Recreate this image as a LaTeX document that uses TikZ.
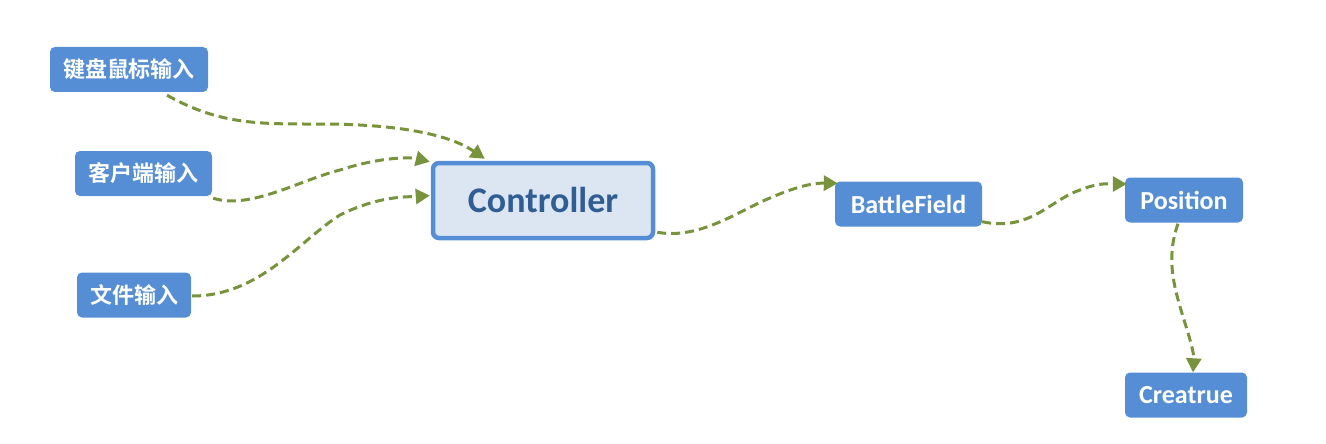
\documentclass[tikz,border=0pt]{standalone}
\usepackage{fontspec}
\setmainfont{Carlito}
\newfontfamily\cjk{Noto Sans CJK SC}[BoldFont={Noto Sans CJK SC Bold}]
\usetikzlibrary{arrows.meta,calc}
\definecolor{boxblue}{HTML}{558ED5}
\definecolor{ctrlfill}{HTML}{DCE6F2}
\definecolor{ctrltext}{HTML}{2F5D94}
\definecolor{arrgreen}{HTML}{77933C}
\begin{document}
\begin{tikzpicture}[x=1pt,y=-1pt,
  box/.style={draw=none,fill=boxblue,rounded corners=5pt,text=white,font=\bfseries\fontsize{26}{30}\selectfont,minimum height=45pt,inner sep=0pt,align=center},
  cjkbox/.style={box,font=\cjk\bfseries\fontsize{22}{26}\selectfont},
  ctrl/.style={draw=boxblue,line width=4.5pt,fill=ctrlfill,rounded corners=6pt,text=ctrltext,font=\bfseries\fontsize{36}{40}\selectfont,minimum width=220pt,minimum height=75pt,inner sep=0pt},
  link/.style={draw=arrgreen,line width=3pt,dash pattern=on 9pt off 5pt,-{Triangle[length=14pt,width=15pt]}}]
\useasboundingbox (0,0) rectangle (1326,444);
\node[cjkbox,minimum width=158pt] (kb) at (129,69.5) {键盘鼠标输入};
\node[cjkbox,minimum width=137pt] (cl) at (143.5,173.5) {客户端输入};
\node[cjkbox,minimum width=114pt] (fi) at (134,295) {文件输入};
\node[ctrl] (ct) at (543,200.5) {Controller};
\node[box,minimum width=147pt] (bf) at (908.5,204) {BattleField};
\node[box,minimum width=118pt] (po) at (1184,200) {Position};
\node[box,minimum width=122pt] (cr) at (1186,395) {Creatrue};
\draw[link] ($(kb.south)+(38,3)$) .. controls (220,125) and (260,124) .. (320,124) .. controls (400,124) and (450,135) .. ($(ct.north west)+(54,-2)$);
\draw[link] ($(cl.south east)+(1,2)$) .. controls (250,210) and (300,180) .. (340,170) .. controls (380,157) and (410,157) .. ($(ct.north west)+(-1,1)$);
\draw[link] ($(fi.east)+(1,1)$) .. controls (260,296) and (300,240) .. (340,215) .. controls (380,195) and (410,197) .. ($(ct.west)+(-1,-5)$);
\draw[link] ($(ct.south east)+(2,-8)$) .. controls (700,240) and (740,210) .. (770,198) .. controls (800,185) and (815,183) .. ($(bf.north west)+(3,2)$);
\draw[link] ($(bf.south east)+(0,-5)$) .. controls (1030,232) and (1050,200) .. (1080,190) .. controls (1100,182) and (1110,184) .. ($(po.west)+(2,-16)$);
\draw[link] ($(po.south)+(-6,1)$) .. controls (1165,260) and (1175,290) .. (1184,320) .. controls (1192,345) and (1194,355) .. ($(cr.north)+(7,0)$);
\end{tikzpicture}
\end{document}
